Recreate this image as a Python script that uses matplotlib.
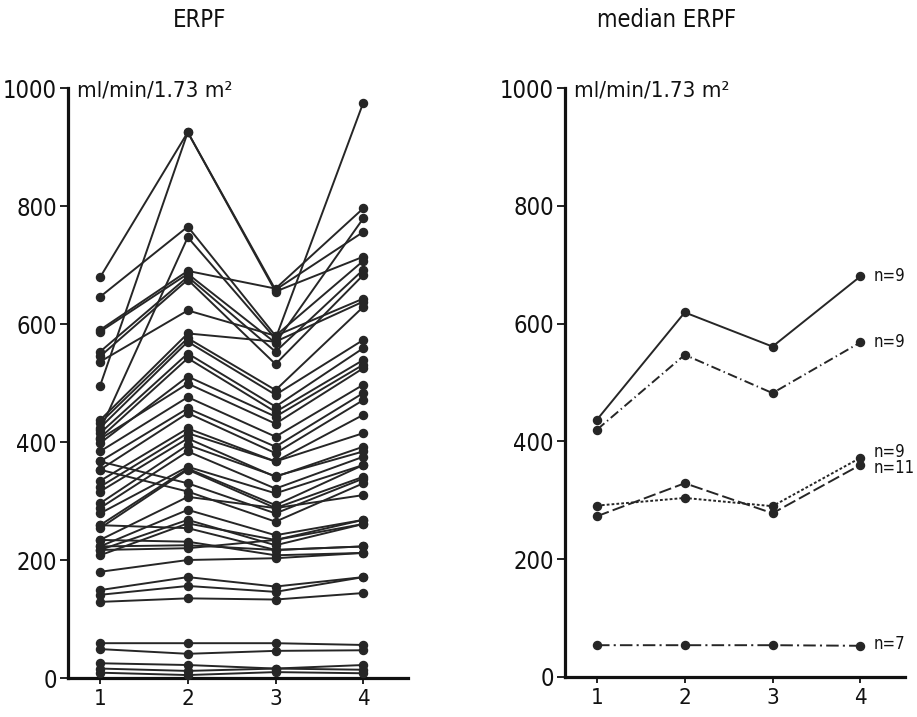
import matplotlib
matplotlib.use("Agg")
import matplotlib.pyplot as plt

plt.rcParams['font.family'] = ['DejaVu Sans']
plt.rcParams['font.stretch'] = 'condensed'
plt.rcParams['lines.scale_dashes'] = False

# ---- data ----
visits = [1, 2, 3, 4]
yticks = [0, 200, 400, 600, 800, 1000]

# individual ERPF curves (ml/min/1.73 m2) at visits 1..4
patients = [
    [679, 925, 658, 756],
    [495, 925, 655, 714],
    [646, 765, 580, 707],
    [420, 747, 575, 975],
    [590, 690, 660, 796],
    [587, 685, 568, 779],
    [553, 680, 553, 692],
    [545, 675, 532, 683],
    [536, 623, 580, 643],
    [437, 584, 570, 638],
    [432, 576, 488, 629],
    [424, 570, 480, 573],
    [415, 550, 460, 559],
    [407, 542, 451, 539],
    [398, 511, 443, 531],
    [405, 499, 431, 525],
    [384, 476, 409, 497],
    [367, 457, 392, 483],
    [353, 449, 381, 471],
    [334, 423, 367, 446],
    [324, 415, 367, 415],
    [316, 406, 341, 392],
    [296, 395, 342, 384],
    [288, 384, 321, 375],
    [279, 358, 313, 361],
    [259, 355, 293, 361],
    [254, 353, 288, 341],
    [367, 330, 279, 338],
    [353, 316, 265, 330],
    [234, 307, 288, 310],
    [223, 285, 242, 268],
    [217, 268, 225, 261],
    [208, 262, 234, 268],
    [259, 254, 217, 223],
    [234, 231, 208, 212],
    [223, 225, 217, 223],
    [217, 220, 234, 261],
    [180, 200, 203, 212],
    [149, 171, 155, 171],
    [141, 156, 146, 171],
    [129, 135, 133, 144],
    [59, 59, 59, 56],
    [49, 41, 46, 47],
    [25, 22, 16, 22],
    [16, 12, 16, 14],
    [9, 5, 10, 8],
]

# median ERPF per group
median_a = [437, 619, 561, 680]   # n=9, solid
median_b = [420, 547, 482, 568]   # n=9, dash-dot
median_c = [291, 304, 290, 372]   # n=9, dotted
median_d = [273, 329, 278, 360]   # n=11, dashed
median_e = [54, 54, 54, 53]       # n=7, long dash-dot
group_labels = ["n=9", "n=9", "n=9", "n=11", "n=7"]
label_y = [680, 568, 382, 354, 56]

unit_text = "ml/min/1.73 m\u00b2"

# ---- figure ----
W, H = 917, 717
fig = plt.figure(figsize=(W / 100, H / 100), dpi=100)
axL = fig.add_axes([68 / W, 1 - 678 / H, (408 - 68) / W, (678 - 88) / H])
axR = fig.add_axes([565 / W, 1 - 677 / H, (905 - 565) / W, (677 - 88) / H])

ink = '#262626'
for ax in (axL, axR):
    ax.set_xlim(0.635, 4.51)
    ax.set_ylim(0, 1000)
    for s in ('top', 'right'):
        ax.spines[s].set_visible(False)
    for s in ('left', 'bottom'):
        ax.spines[s].set_linewidth(2.3)
        ax.spines[s].set_color('#111111')
    ax.set_xticks(visits)
    ax.set_xticklabels([str(v) for v in visits])
    ax.set_yticks(yticks)
    ax.set_yticklabels([str(v) for v in yticks])
    ax.tick_params(axis='y', direction='out', length=6, width=1.3, pad=2,
                   labelsize=17, colors='#111111')
    ax.tick_params(axis='x', direction='out', length=4, width=1.3, pad=4,
                   labelsize=16, colors='#111111')
    ax.text(0.635 + 9 / 87.7, 985, unit_text, fontsize=16, color='#111111',
            ha='left', va='baseline', clip_on=False)

for p in patients:
    axL.plot(visits, p, color=ink, lw=1.4, marker='o', ms=5.8,
             markerfacecolor=ink, markeredgecolor=ink, clip_on=False, zorder=3)

styles = [
    (median_a, '-'),
    (median_b, (0, (7, 2.5, 1, 2.5))),
    (median_c, (0, (2, 1.5))),
    (median_d, (0, (9, 3))),
    (median_e, (0, (9, 3, 1.5, 3))),
]
for vals, ls in styles:
    axR.plot(visits, vals, color=ink, lw=1.4, linestyle=ls, marker='o', ms=5.8,
             markerfacecolor=ink, markeredgecolor=ink, clip_on=False, zorder=3)

for lab, yv in zip(group_labels, label_y):
    axR.text(4.15, yv, lab, fontsize=12, color='#111111', ha='left', va='center',
             clip_on=False)

fig.text(200 / W, 1 - 20 / H, "ERPF", fontsize=17, ha='center', va='center', color='#111111')
fig.text(667 / W, 1 - 20 / H, "median ERPF", fontsize=17, ha='center', va='center', color='#111111')

fig.savefig("out.png", dpi=100, facecolor='white')
